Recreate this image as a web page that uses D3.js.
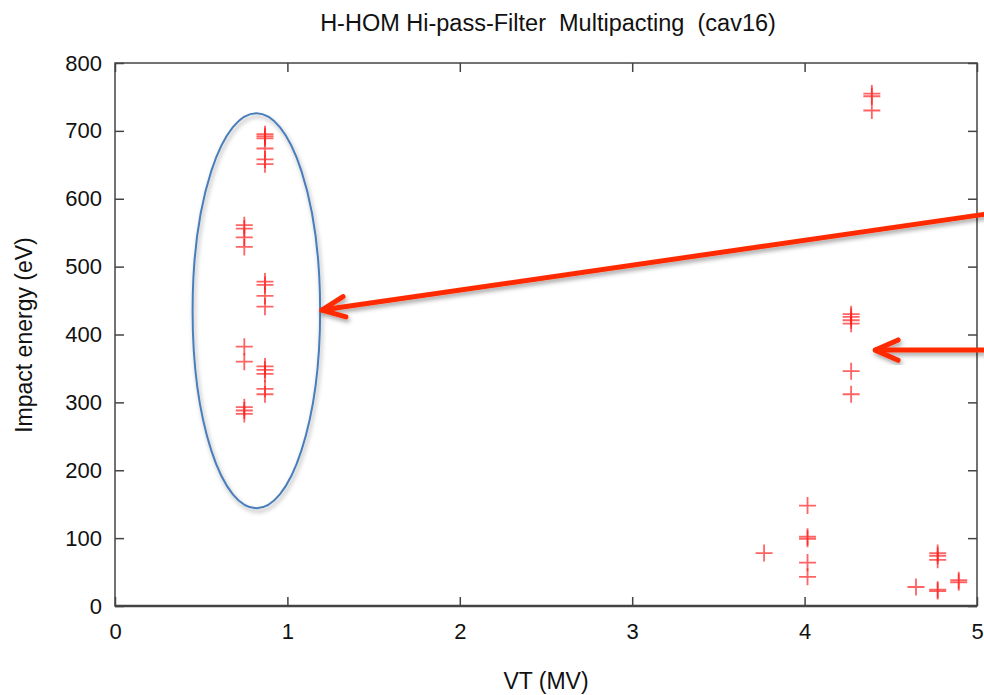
<!DOCTYPE html>
<html>
<head>
<meta charset="utf-8">
<script src="https://cdn.jsdelivr.net/npm/d3@7"></script>
<style>
  body { margin: 0; background: #fff; }
  svg { display: block; font-family: "Liberation Sans", Arial, sans-serif; }
  .axis path, .axis line { stroke: #444; }
  text { white-space: pre; }
</style>
</head>
<body>
<svg id="chart" width="984" height="695"></svg>
<script>
// multipacting points, one entry per "+"
var vt = [0.87, 0.87, 0.87, 0.87, 0.87, 0.87, 0.87, 0.87, 0.87, 0.87, 0.87, 0.87, 0.87, 0.87, 0.87,
          0.75, 0.75, 0.75, 0.75, 0.75, 0.75, 0.75, 0.75, 0.75,
          4.39, 4.39, 4.39,
          4.27, 4.27, 4.27, 4.27, 4.27, 4.27,
          3.765,
          4.017, 4.017, 4.017, 4.017, 4.017,
          4.646,
          4.772, 4.772, 4.772, 4.772, 4.772,
          4.894, 4.894];
var energy = [695, 692, 689, 674, 658, 651, 478, 473, 457, 441, 353, 348, 342, 320, 312,
              561, 556, 543, 529, 382, 360, 293, 288, 283,
              755, 751, 730,
              430, 426, 421, 416, 346, 312,
              78,
              148, 102, 99, 64, 43,
              28,
              78, 74, 68, 24, 22,
              38, 35];

var xTicks = [0, 1, 2, 3, 4, 5];
var yTicks = [0, 100, 200, 300, 400, 500, 600, 700, 800];

var titleText = "H-HOM Hi-pass-Filter  Multipacting  (cav16)";
var xLabel = "VT (MV)";
var yLabel = "Impact energy (eV)";

// annotations (data units): the ellipse round the low-VT group and the two arrows
var ellipse = { vt: 0.82, e: 435, rvt: 0.37, re: 291 };
var arrows = [
  { from: [5.04, 577], to: [1.20, 436] },
  { from: [5.04, 377], to: [4.41, 377] }
];

var svg = d3.select("#chart");
// careful: "top" is window.top, so plot edges get their own names
var plotL = 115, plotR = 977, plotT = 63, plotB = 606;

var x = d3.scaleLinear().domain([0, 5]).range([plotL, plotR]);
var y = d3.scaleLinear().domain([0, 800]).range([plotB, plotT]);

var defs = svg.append("defs");
var shadow = defs.append("filter").attr("id", "shadow")
  .attr("x", "-20%").attr("y", "-20%").attr("width", "140%").attr("height", "140%");
shadow.append("feDropShadow").attr("dx", 1.5).attr("dy", 3).attr("stdDeviation", 2)
  .attr("flood-color", "#000").attr("flood-opacity", 0.35);

// frame + inward ticks on all four sides (gnuplot look)
svg.append("rect").attr("x", plotL).attr("y", plotT)
  .attr("width", plotR - plotL).attr("height", plotB - plotT)
  .attr("fill", "none").attr("stroke", "#444").attr("stroke-width", 1.5);

var fmt = d3.format("d");
var gx = svg.append("g").attr("class", "axis").attr("transform", "translate(0," + plotB + ")")
  .call(d3.axisBottom(x).tickValues(xTicks).tickFormat(fmt).tickSize(-9).tickPadding(17));
var gy = svg.append("g").attr("class", "axis").attr("transform", "translate(" + plotL + ",0)")
  .call(d3.axisLeft(y).tickValues(yTicks).tickFormat(fmt).tickSize(-9).tickPadding(13));
svg.append("g").attr("class", "axis").attr("transform", "translate(" + plotR + ",0)")
  .call(d3.axisRight(y).tickValues(yTicks).tickFormat("").tickSize(-9));
svg.append("g").attr("class", "axis").attr("transform", "translate(0," + plotT + ")")
  .call(d3.axisTop(x).tickValues(xTicks).tickFormat("").tickSize(-9));

svg.selectAll(".axis .domain").remove();
svg.selectAll(".axis line").attr("stroke-width", 1.5);
svg.selectAll(".axis text").attr("font-size", 22).attr("fill", "#111")
  .attr("font-family", "'Liberation Sans', Arial, sans-serif");
gx.selectAll("text").attr("dy", "0.71em");
svg.append("line").attr("x1", plotL).attr("x2", plotR).attr("y1", plotB).attr("y2", plotB)
  .attr("stroke", "#444").attr("stroke-width", 2.5);

// points
var pts = d3.range(vt.length).map(function(i) { return { vt: vt[i], e: energy[i] }; });
var s = 8.5;
svg.append("g").selectAll("path").data(pts).enter().append("path")
  .attr("d", function(d) {
    var px = x(d.vt), py = y(d.e);
    return "M" + (px - s) + "," + py + "H" + (px + s) + "M" + px + "," + (py - s) + "V" + (py + s);
  })
  .attr("stroke", "#ff1a1a").attr("stroke-opacity", 0.68).attr("stroke-width", 1.8).attr("fill", "none");

// ellipse annotation
svg.append("ellipse")
  .attr("cx", x(ellipse.vt)).attr("cy", y(ellipse.e))
  .attr("rx", x(ellipse.rvt) - x(0)).attr("ry", y(0) - y(ellipse.re))
  .attr("fill", "none").attr("stroke", "#4a7ebb").attr("stroke-width", 2)
  .attr("filter", "url(#shadow)");

// arrows
arrows.forEach(function(a) {
  var x0 = x(a.from[0]), y0 = y(a.from[1]), x1 = x(a.to[0]), y1 = y(a.to[1]);
  var ang = Math.atan2(y0 - y1, x0 - x1), len = 25, spread = 0.42;
  var g = svg.append("g").attr("filter", "url(#shadow)")
    .attr("stroke", "#ff2a00").attr("stroke-width", 5).attr("stroke-linecap", "round")
    .attr("stroke-linejoin", "round").attr("fill", "none");
  g.append("line").attr("x1", x0).attr("y1", y0).attr("x2", x1).attr("y2", y1);
  g.append("path").attr("d",
    "M" + (x1 + len * Math.cos(ang + spread)) + "," + (y1 + len * Math.sin(ang + spread)) +
    "L" + x1 + "," + y1 +
    "L" + (x1 + len * Math.cos(ang - spread)) + "," + (y1 + len * Math.sin(ang - spread)));
});

// labels
svg.append("text").attr("x", 548).attr("y", 31).attr("text-anchor", "middle")
  .attr("font-size", 23.5).attr("fill", "#111").text(titleText);
svg.append("text").attr("x", 546).attr("y", 689).attr("text-anchor", "middle")
  .attr("font-size", 23).attr("fill", "#111").text(xLabel);
svg.append("text").attr("transform", "translate(32,335) rotate(-90)")
  .attr("text-anchor", "middle").attr("font-size", 23).attr("fill", "#111").text(yLabel);
</script>
</body>
</html>
